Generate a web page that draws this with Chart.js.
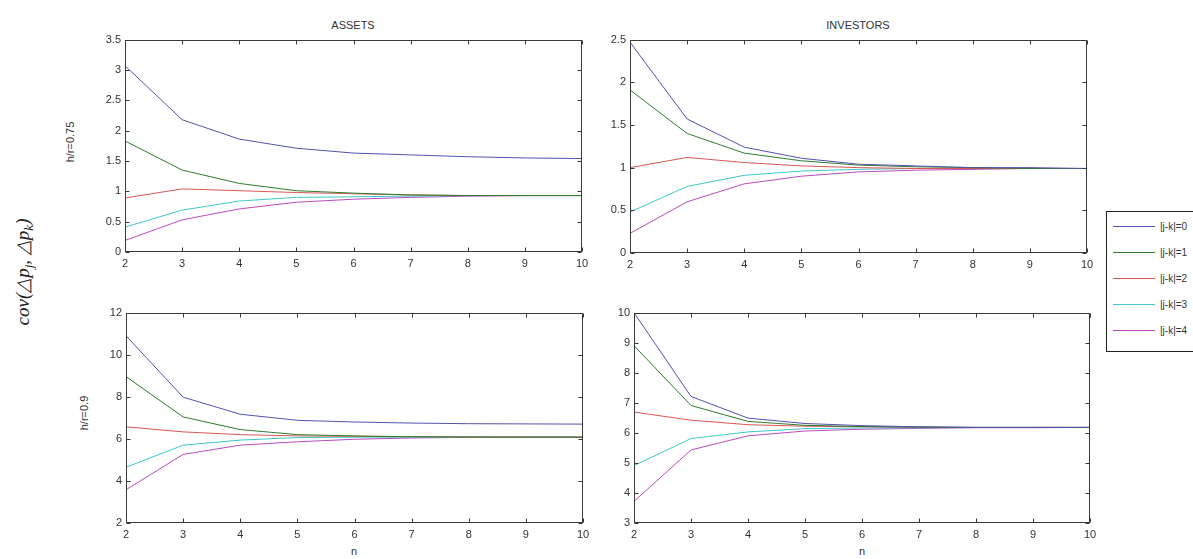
<!DOCTYPE html>
<html>
<head>
<meta charset="utf-8">
<script src="https://cdn.jsdelivr.net/npm/chart.js@4.4.1/dist/chart.umd.min.js"></script>
<style>
  html, body { margin:0; padding:0; background:#fff; }
  body { width:1193px; height:559px; position:relative; overflow:hidden; font-family:"Liberation Sans", Arial, sans-serif; color:#333; }
  canvas { position:absolute; }
  .lbl { position:absolute; white-space:nowrap; font-size:11px; color:#333; transform:translate(-50%,-50%); }
  .rot { transform:translate(-50%,-50%) rotate(-90deg); }
  .cov { font-family:"Liberation Serif","Times New Roman",serif; font-style:italic; font-size:19px; color:#222; }
  .cov sub { font-size:13px; }
  #legend { position:absolute; left:1106px; top:211px; width:120px; height:141px; border:1px solid #222; box-sizing:border-box; background:#fff; }
  .lrow { position:absolute; left:6px; height:12px; display:flex; align-items:center; font-size:10px; color:#333; }
  .lline { width:42px; height:0; border-top:1px solid; margin-right:5px; }
</style>
</head>
<body>
<div class="lbl" style="left:353px;top:25px;">ASSETS</div>
<div class="lbl" style="left:858px;top:25px;">INVESTORS</div>
<div class="lbl rot" style="left:70px;top:142px;">h/r=0.75</div>
<div class="lbl rot" style="left:84px;top:413px;">h/r=0.9</div>
<div class="lbl" style="left:354px;top:551px;color:#333;">n</div>
<div class="lbl" style="left:862px;top:551px;color:#333;">n</div>
<div class="lbl rot cov" style="left:24px;top:272px;">cov(△p<sub>j</sub>, △p<sub>k</sub>)</div>
<div id="legend"></div>

<canvas id="cTL"></canvas>
<canvas id="cTR"></canvas>
<canvas id="cBL"></canvas>
<canvas id="cBR"></canvas>

<script>
// ---- data ----
const nValues = [2, 3, 4, 5, 6, 7, 8, 9, 10];
const seriesLabels = ['|j-k|=0', '|j-k|=1', '|j-k|=2', '|j-k|=3', '|j-k|=4'];
const seriesColors = ['#5252b0', '#2e7d2e', '#d85858', '#40c8c8', '#b84cbc'];

const assets075_d0 = [3.07, 2.18, 1.86, 1.71, 1.63, 1.60, 1.57, 1.55, 1.54];
const assets075_d1 = [1.83, 1.35, 1.13, 1.01, 0.97, 0.94, 0.93, 0.93, 0.93];
const assets075_d2 = [0.89, 1.04, 1.01, 0.98, 0.96, 0.94, 0.93, 0.93, 0.93];
const assets075_d3 = [0.41, 0.69, 0.84, 0.90, 0.91, 0.92, 0.93, 0.93, 0.93];
const assets075_d4 = [0.19, 0.53, 0.71, 0.82, 0.87, 0.90, 0.92, 0.93, 0.93];

const investors075_d0 = [2.47, 1.57, 1.24, 1.11, 1.04, 1.02, 1.00, 1.00, 0.99];
const investors075_d1 = [1.91, 1.40, 1.17, 1.08, 1.03, 1.01, 1.00, 0.99, 0.99];
const investors075_d2 = [1.00, 1.12, 1.06, 1.02, 1.00, 0.99, 0.99, 0.99, 0.99];
const investors075_d3 = [0.48, 0.78, 0.91, 0.96, 0.98, 0.99, 0.99, 0.99, 0.99];
const investors075_d4 = [0.23, 0.60, 0.81, 0.90, 0.95, 0.97, 0.98, 0.99, 0.99];

const assets09_d0 = [10.9, 7.98, 7.17, 6.88, 6.80, 6.75, 6.72, 6.71, 6.70];
const assets09_d1 = [8.96, 7.04, 6.44, 6.20, 6.14, 6.10, 6.09, 6.08, 6.08];
const assets09_d2 = [6.57, 6.33, 6.20, 6.14, 6.12, 6.10, 6.09, 6.08, 6.08];
const assets09_d3 = [4.65, 5.70, 5.94, 6.06, 6.08, 6.08, 6.08, 6.08, 6.08];
const assets09_d4 = [3.58, 5.26, 5.70, 5.86, 5.98, 6.04, 6.07, 6.08, 6.08];

const investors09_d0 = [10.0, 7.21, 6.49, 6.31, 6.24, 6.20, 6.18, 6.18, 6.18];
const investors09_d1 = [8.90, 6.91, 6.38, 6.25, 6.21, 6.19, 6.18, 6.18, 6.18];
const investors09_d2 = [6.69, 6.42, 6.27, 6.22, 6.20, 6.19, 6.18, 6.18, 6.18];
const investors09_d3 = [4.91, 5.81, 6.03, 6.14, 6.16, 6.17, 6.18, 6.18, 6.18];
const investors09_d4 = [3.72, 5.43, 5.90, 6.06, 6.12, 6.15, 6.17, 6.17, 6.18];

const xTicks = [2, 3, 4, 5, 6, 7, 8, 9, 10];
const yTicksTop075Assets = [0, 0.5, 1, 1.5, 2, 2.5, 3, 3.5];
const yTicksTop075Investors = [0, 0.5, 1, 1.5, 2, 2.5];
const yTicksBottomAssets = [2, 4, 6, 8, 10, 12];
const yTicksBottomInvestors = [3, 4, 5, 6, 7, 8, 9, 10];

// ---- layout ----
const panels = [
  { id:'cTL', left:125, top:39,  w:457, h:213, ticksY:yTicksTop075Assets,
    series:[assets075_d0, assets075_d1, assets075_d2, assets075_d3, assets075_d4] },
  { id:'cTR', left:630, top:39,  w:457, h:214, ticksY:yTicksTop075Investors,
    series:[investors075_d0, investors075_d1, investors075_d2, investors075_d3, investors075_d4] },
  { id:'cBL', left:126, top:312, w:457, h:211, ticksY:yTicksBottomAssets,
    series:[assets09_d0, assets09_d1, assets09_d2, assets09_d3, assets09_d4] },
  { id:'cBR', left:634, top:312, w:456, h:211, ticksY:yTicksBottomInvestors,
    series:[investors09_d0, investors09_d1, investors09_d2, investors09_d3, investors09_d4] }
];

const PADL = 40, PADT = 10, PADR = 12, PADB = 28;

const framePlugin = {
  id: 'matlabFrame',
  afterDatasetsDraw(chart) {
    const { ctx, chartArea: a, scales } = chart;
    ctx.save();
    ctx.strokeStyle = '#3a3a3a';
    ctx.lineWidth = 1;
    const L = Math.round(a.left) + 0.5, R = Math.round(a.right) - 0.5;
    const T = Math.round(a.top) + 0.5, B = Math.round(a.bottom) - 0.5;
    ctx.strokeRect(L, T, R - L, B - T);
    const tl = 4;
    ctx.beginPath();
    scales.x.ticks.forEach(t => {
      const px = Math.round(scales.x.getPixelForValue(t.value)) + 0.5;
      ctx.moveTo(px, B); ctx.lineTo(px, B - tl);
      ctx.moveTo(px, T); ctx.lineTo(px, T + tl);
    });
    scales.y.ticks.forEach(t => {
      const py = Math.round(scales.y.getPixelForValue(t.value)) + 0.5;
      ctx.moveTo(L, py); ctx.lineTo(L + tl, py);
      ctx.moveTo(R, py); ctx.lineTo(R - tl, py);
    });
    ctx.stroke();
    ctx.restore();
  }
};

const fmt = v => String(Math.round(v * 100) / 100);

panels.forEach(p => {
  const cv = document.getElementById(p.id);
  const W = p.w + PADL + PADR, H = p.h + PADT + PADB;
  cv.width = W; cv.height = H;
  cv.style.left = (p.left - PADL) + 'px';
  cv.style.top = (p.top - PADT) + 'px';
  cv.style.width = W + 'px'; cv.style.height = H + 'px';
  const yMin = p.ticksY[0], yMax = p.ticksY[p.ticksY.length - 1];
  new Chart(cv, {
    type: 'line',
    data: {
      datasets: p.series.map((vals, i) => ({
        label: seriesLabels[i],
        data: nValues.map((n, k) => ({ x: n, y: vals[k] })),
        borderColor: seriesColors[i],
        backgroundColor: seriesColors[i],
        borderWidth: 1,
        pointRadius: 0,
        tension: 0,
        fill: false
      }))
    },
    options: {
      responsive: false,
      animation: false,
      devicePixelRatio: 1,
      layout: { padding: { left: 0, top: PADT, right: PADR, bottom: 0 } },
      plugins: { legend: { display: false }, tooltip: { enabled: false }, title: { display: false } },
      scales: {
        x: {
          type: 'linear', min: xTicks[0], max: xTicks[xTicks.length - 1],
          afterBuildTicks: s => { s.ticks = xTicks.map(v => ({ value: v })); },
          afterFit: s => { s.height = PADB; },
          grid: { display: false, drawTicks: false },
          border: { display: false },
          ticks: { padding: 5, color: '#333', font: { family: 'Liberation Sans', size: 11 }, maxRotation: 0, autoSkip: false, callback: fmt }
        },
        y: {
          type: 'linear', min: yMin, max: yMax,
          afterBuildTicks: s => { s.ticks = p.ticksY.map(v => ({ value: v })); },
          afterFit: s => { s.width = PADL; },
          grid: { display: false, drawTicks: false },
          border: { display: false },
          ticks: { padding: 4, color: '#333', font: { family: 'Liberation Sans', size: 11 }, autoSkip: false, callback: fmt }
        }
      }
    },
    plugins: [framePlugin]
  });
});

// ---- legend ----
const lg = document.getElementById('legend');
seriesLabels.forEach((lab, i) => {
  const row = document.createElement('div');
  row.className = 'lrow';
  row.style.top = (8 + i * 26) + 'px';
  const ln = document.createElement('div');
  ln.className = 'lline';
  ln.style.borderTopColor = seriesColors[i];
  const tx = document.createElement('span');
  tx.textContent = lab;
  row.appendChild(ln); row.appendChild(tx);
  lg.appendChild(row);
});
</script>
</body>
</html>
